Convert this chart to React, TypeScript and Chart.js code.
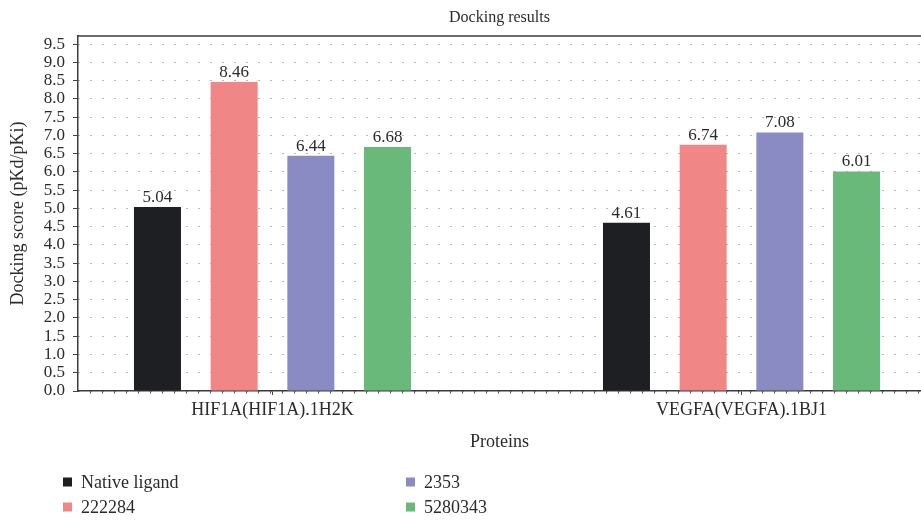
import React, { useEffect, useRef } from "react";
import { Chart, registerables } from "chart.js";

Chart.register(...registerables);

const categories = ["HIF1A(HIF1A).1H2K", "VEGFA(VEGFA).1BJ1"];
const seriesNames = ["Native ligand", "222284", "2353", "5280343"];
const nativeLigand = [5.04, 4.61];
const c222284 = [8.46, 6.74];
const c2353 = [6.44, 7.08];
const c5280343 = [6.68, 6.01];
const seriesValues = [nativeLigand, c222284, c2353, c5280343];
const seriesColors = ["#1e1f22", "#f08685", "#8b8bc3", "#68b97a"];
const yTickStep = 0.5;
const yMax = 9.72;

const FONT = "'Liberation Serif', 'Times New Roman', serif";
const TEXT = "#2b2b2b";

const extrasPlugin = {
  id: "extras",
  afterDraw(chart: any) {
    const { ctx, chartArea } = chart;
    ctx.save();
    // top border
    ctx.strokeStyle = "#3a3a3a";
    ctx.lineWidth = 1.5;
    ctx.beginPath();
    ctx.moveTo(chartArea.left, chartArea.top);
    ctx.lineTo(chartArea.right, chartArea.top);
    ctx.stroke();
    // minor ticks on x axis
    ctx.lineWidth = 1;
    ctx.strokeStyle = "#555";
    ctx.beginPath();
    for (let x = chartArea.left + 12; x < chartArea.right; x += 12) {
      ctx.moveTo(x + 0.5, chartArea.bottom);
      ctx.lineTo(x + 0.5, chartArea.bottom + 2.5);
    }
    ctx.stroke();
    // title
    ctx.fillStyle = TEXT;
    ctx.font = `16px ${FONT}`;
    ctx.textAlign = "center";
    ctx.textBaseline = "middle";
    ctx.fillText("Docking results", (chartArea.left + chartArea.right) / 2, 17.5);
    // legend
    ctx.font = `18px ${FONT}`;
    ctx.textAlign = "left";
    chart.data.datasets.forEach((ds: any, i: number) => {
      const row = i % 2;
      const col = Math.floor(i / 2);
      const sx = col === 0 ? 63 : 406;
      const cy = row === 0 ? 482 : 507;
      ctx.fillStyle = ds.backgroundColor;
      ctx.fillRect(sx, cy - 4.5, 9, 9);
      ctx.fillStyle = TEXT;
      ctx.fillText(ds.label, sx + 18, cy + 1);
    });
    ctx.restore();
  },
  afterDatasetsDraw(chart: any) {
    const { ctx } = chart;
    ctx.save();
    ctx.fillStyle = TEXT;
    ctx.font = `17px ${FONT}`;
    ctx.textAlign = "center";
    ctx.textBaseline = "bottom";
    chart.data.datasets.forEach((ds: any, di: number) => {
      const meta = chart.getDatasetMeta(di);
      meta.data.forEach((el: any, i: number) => {
        ctx.fillText(ds.data[i].y.toFixed(2), el.x, el.y - 1);
      });
    });
    ctx.restore();
  },
};

export default function App() {
  const ref = useRef<HTMLCanvasElement>(null);
  useEffect(() => {
    document.body.style.margin = "0";
    Chart.defaults.font.family = FONT;
    Chart.defaults.color = TEXT;
    const chart = new Chart(ref.current as HTMLCanvasElement, {
      type: "bar",
      data: {
        datasets: seriesNames.map((name, i) => ({
          label: name,
          data: seriesValues[i].map((v, k) => ({ x: k, y: v })),
          backgroundColor: seriesColors[i],
          borderWidth: 0,
          categoryPercentage: 0.654,
          barPercentage: 0.613,
        })),
      },
      options: {
        animation: false,
        responsive: false,
        maintainAspectRatio: false,
        events: [],
        layout: { padding: { top: 36, right: 0, bottom: 67, left: 0 } },
        plugins: {
          legend: { display: false },
          title: { display: false },
          tooltip: { enabled: false },
        },
        scales: {
          x: {
            type: "linear",
            min: -0.4147,
            max: 1.3827,
            offset: false,
            afterBuildTicks: (scale: any) => {
              scale.ticks = categories.map((_, i) => ({ value: i }));
            },
            afterFit: (scale: any) => {
              scale.height = 62;
            },
            ticks: {
              callback: (v: any) => categories[v] ?? "",
              font: { size: 18 },
              color: TEXT,
              padding: 4,
              maxRotation: 0,
              autoSkip: false,
            },
            grid: {
              drawOnChartArea: false,
              offset: false,
              tickLength: 4,
              tickColor: "#444",
            },
            border: { display: true, color: "#3a3a3a", width: 1.5 },
            title: {
              display: true,
              text: "Proteins",
              font: { size: 18 },
              color: TEXT,
              padding: { top: 0, bottom: 0 },
            },
          },
          y: {
            type: "linear",
            min: 0,
            max: yMax,
            afterFit: (scale: any) => {
              scale.width = 78;
            },
            ticks: {
              stepSize: yTickStep,
              includeBounds: false,
              autoSkip: false,
              callback: (v: any) => Number(v).toFixed(1),
              font: { size: 17 },
              color: TEXT,
              padding: 8,
            },
            grid: {
              color: "#6f6f6f",
              lineWidth: 1,
              tickLength: 5,
              tickColor: "#444",
              tickBorderDash: [],
            },
            border: { display: true, color: "#3a3a3a", width: 1.5, dash: [1, 11] },
            title: {
              display: true,
              text: "Docking score (pKd/pKi)",
              font: { size: 18 },
              color: TEXT,
              padding: { top: 7, bottom: 0 },
            },
          },
        },
      },
      plugins: [extrasPlugin],
    } as any);
    return () => chart.destroy();
  }, []);
  return (
    <div style={{ width: 921, height: 520 }}>
      <canvas ref={ref} width={921} height={520} style={{ display: "block" }} />
    </div>
  );
}
